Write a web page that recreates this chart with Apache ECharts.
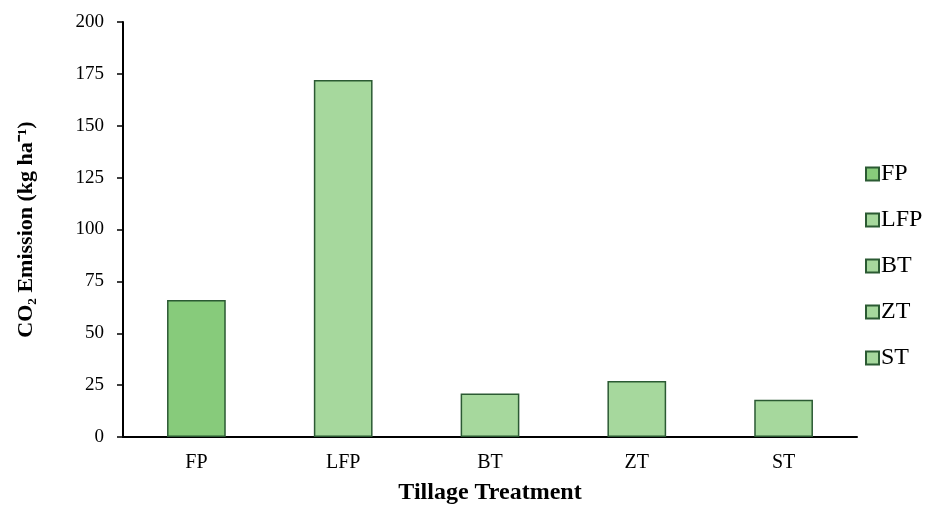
<!DOCTYPE html>
<html><head><meta charset="utf-8">
<script src="https://cdn.jsdelivr.net/npm/echarts@6/dist/echarts.min.js"></script>
<style>html,body{margin:0;padding:0;background:#fff}#c{width:928px;height:510px}</style>
</head><body><div id="c"></div>
<script>
const categories = ['FP', 'LFP', 'BT', 'ZT', 'ST'];
const values = [66, 172, 21, 27, 18];
const fills = ['#87CB7B', '#A6D89D', '#A6D89D', '#A6D89D', '#A6D89D'];
const yTicks = { min: 0, max: 200, interval: 25 };

const font = '"Liberation Serif", "Times New Roman", serif';
const series = categories.map((name, i) => ({
  name: name,
  type: 'bar',
  stack: 'all',
  barWidth: '40%',
  data: categories.map((c, j) => (j === i ? values[i] : '-')),
  itemStyle: { color: fills[i], borderColor: '#2B5A33', borderWidth: 1.5 }
}));

const chart = echarts.init(document.getElementById('c'));
chart.setOption({
  animation: false,
  textStyle: { fontFamily: font },
  grid: { left: 123, right: 71, top: 22, bottom: 66, containLabel: false },
  legend: {
    orient: 'vertical', left: 860, top: 157, itemGap: 22,
    itemWidth: 13, itemHeight: 13, icon: 'rect',
    textStyle: { fontFamily: font, fontSize: 24, color: '#000', padding: [0,0,0,-3] },
    data: categories
  },
  xAxis: {
    type: 'category', data: categories,
    axisLine: { lineStyle: { color: '#000', width: 2 } },
    axisTick: { show: false },
    axisLabel: { color: '#000', fontSize: 20, fontFamily: font, margin: 16 },
    name: 'Tillage Treatment', nameLocation: 'middle', nameGap: 44,
    nameTextStyle: { color: '#000', fontSize: 24, fontWeight: 'bold', fontFamily: font }
  },
  yAxis: {
    type: 'value', min: yTicks.min, max: yTicks.max, interval: yTicks.interval,
    axisLine: { show: true, lineStyle: { color: '#000', width: 2 } },
    axisTick: { show: true, length: 6, lineStyle: { color: '#000', width: 1.5 } },
    splitLine: { show: false },
    axisLabel: { color: '#000', fontSize: 19, fontFamily: font, margin: 19 },
    name: 'CO\u2082 Emission (kg ha\u207B\u00B9)', nameLocation: 'middle', nameGap: 86, nameRotate: 90,
    nameTextStyle: { color: '#000', fontSize: 22, fontWeight: 'bold', fontFamily: font }
  },
  series: series
});
</script></body></html>
